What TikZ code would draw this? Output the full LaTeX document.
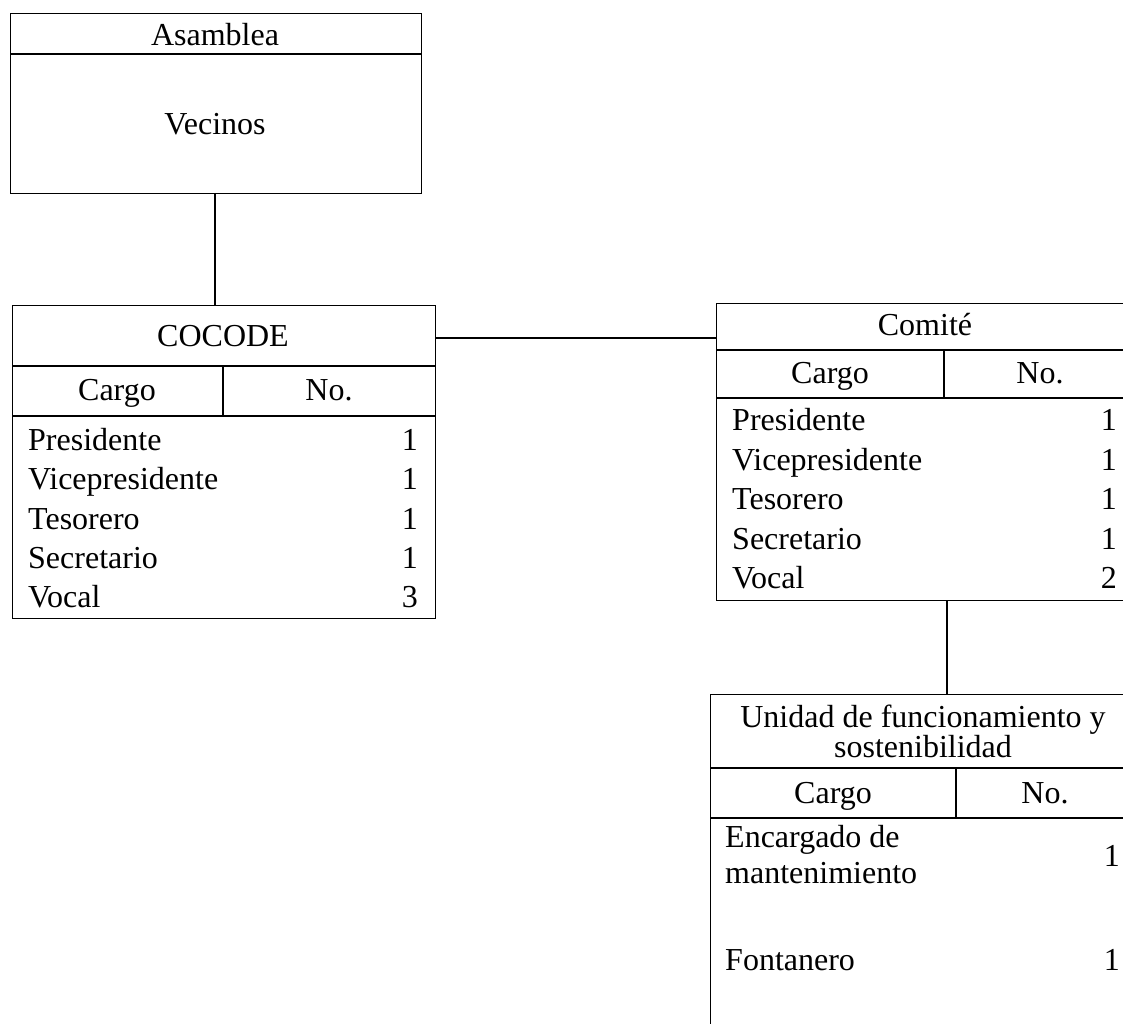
\documentclass[tikz,border=0pt]{standalone}
\usepackage{fontspec}
\setmainfont{Liberation Serif}
\begin{document}
\begin{tikzpicture}[x=1pt,y=-1pt,
  frame/.style={draw, line width=1.3pt, rectangle, anchor=north west, inner sep=0pt},
  rule/.style={line width=1.1pt},
  conn/.style={line width=1.1pt},
  txt/.style={inner sep=0pt, font=\fontsize{32}{36}\selectfont},
  ctr/.style={txt, anchor=base},
  lft/.style={txt, anchor=base west},
  rgt/.style={txt, anchor=base east}]
\useasboundingbox (0,0) rectangle (1123,1024);
\clip (0,0) rectangle (1123,1024);
\fill[white] (0,0) rectangle (1123,1024);

% Asamblea
\node[frame, minimum width=411pt, minimum height=180pt] (asam) at (10,13) {};
\draw[rule] (10,54) -- (421,54);
\node[ctr] (asamT) at (215,46) {Asamblea};
\node[ctr] (vec) at (215,135) {Vecinos};

% COCODE
\node[frame, minimum width=423pt, minimum height=313pt] (cocode) at (12,305) {};
\draw[rule] (12,366) -- (435,366);
\draw[rule] (223,366) -- (223,416);
\draw[rule] (12,416) -- (435,416);
\node[ctr] (cocodeT) at (223,346) {COCODE};
\node[ctr] (cocC) at (117,400) {Cargo};
\node[ctr] (cocN) at (329,400) {No.};
\node[lft] (c1) at (28,450) {Presidente};
\node[lft] (c2) at (28,489) {Vicepresidente};
\node[lft] (c3) at (28,529) {Tesorero};
\node[lft] (c4) at (28,568) {Secretario};
\node[lft] (c5) at (28,607) {Vocal};
\node[rgt] (n1) at (418,450) {1};
\node[rgt] (n2) at (418,489) {1};
\node[rgt] (n3) at (418,529) {1};
\node[rgt] (n4) at (418,568) {1};
\node[rgt] (n5) at (418,607) {3};

% Comite
\node[frame, minimum width=419pt, minimum height=297pt] (comite) at (716,303) {};
\draw[rule] (716,350) -- (1135,350);
\draw[rule] (944,350) -- (944,398);
\draw[rule] (716,398) -- (1135,398);
\node[ctr] (comT) at (925,335) {Comité};
\node[ctr] (comC) at (830,383) {Cargo};
\node[ctr] (comN) at (1040,383) {No.};
\node[lft] (m1) at (732,430) {Presidente};
\node[lft] (m2) at (732,470) {Vicepresidente};
\node[lft] (m3) at (732,509) {Tesorero};
\node[lft] (m4) at (732,549) {Secretario};
\node[lft] (m5) at (732,588) {Vocal};
\node[rgt] (k1) at (1117,430) {1};
\node[rgt] (k2) at (1117,470) {1};
\node[rgt] (k3) at (1117,509) {1};
\node[rgt] (k4) at (1117,549) {1};
\node[rgt] (k5) at (1117,588) {2};

% Unidad
\node[frame, minimum width=425pt, minimum height=346pt] (unidad) at (710,694) {};
\draw[rule] (710,768) -- (1135,768);
\draw[rule] (956,768) -- (956,818);
\draw[rule] (710,818) -- (1135,818);
\node[ctr] (uT1) at (923,727) {Unidad de funcionamiento y};
\node[ctr] (uT2) at (923,757) {sostenibilidad};
\node[ctr] (uC) at (833,803) {Cargo};
\node[ctr] (uN) at (1045,803) {No.};
\node[lft] (u1a) at (725,847) {Encargado de};
\node[lft] (u1b) at (725,883) {mantenimiento};
\node[rgt] (v1) at (1120,866) {1};
\node[lft] (u2) at (725,970) {Fontanero};
\node[rgt] (v2) at (1120,970) {1};

% connectors
\coordinate (a2c) at (215,193);
\draw[conn] (a2c) -- (a2c |- cocode.north);
\coordinate (c2m) at (435,338);
\draw[conn] (c2m) -- (c2m -| comite.west);
\coordinate (m2u) at (947,600);
\draw[conn] (m2u) -- (m2u |- unidad.north);
\end{tikzpicture}
\end{document}
